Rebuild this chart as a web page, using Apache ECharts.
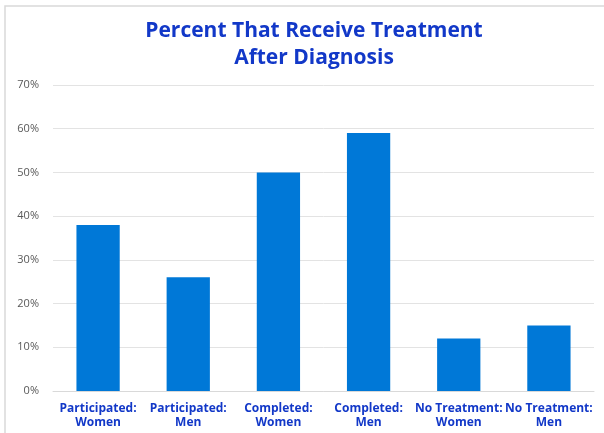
<!DOCTYPE html>
<html><head><meta charset="utf-8">
<script src="https://cdn.jsdelivr.net/npm/echarts@6/dist/echarts.min.js"></script>
<style>html,body{margin:0;padding:0;background:#fff}#c{width:604px;height:433px}</style>
</head><body><div id="c"></div>
<script>
const categories = ["Participated:\nWomen","Participated:\nMen","Completed:\nWomen","Completed:\nMen","No Treatment:\nWomen","No Treatment:\nMen"];
const values = [38, 26, 50, 59, 12, 15];
const yTicks = [0, 10, 20, 30, 40, 50, 60, 70];

const chart = echarts.init(document.getElementById('c'));
chart.setOption({
  animation: false,
  graphic: [{type:'rect', shape:{x:5,y:6,width:620,height:440}, style:{fill:'none', stroke:'#d9d9d9', lineWidth:1.5}, z:-1}],
  title: {
    text: 'Percent That Receive Treatment\nAfter Diagnosis',
    left: 309, top: 13, textAlign: 'center',
    textStyle: {color:'#1238c8', fontSize:21, fontWeight:'bold', fontFamily:'Open Sans', lineHeight:27}
  },
  grid: {left:53, right:10, top:85, bottom:42, containLabel:false},
  xAxis: {
    type:'category', data: categories,
    axisTick:{show:false},
    axisLine:{lineStyle:{color:'#d9d9d9'}},
    axisLabel:{color:'#1238c8', fontWeight:'bold', fontSize:12, fontFamily:'Open Sans', lineHeight:14, margin:11, interval:0}
  },
  yAxis: {
    type:'value', min:yTicks[0], max:yTicks[yTicks.length-1], interval:10,
    axisLine:{show:false}, axisTick:{show:false},
    splitLine:{lineStyle:{color:'#e3e3e3'}},
    axisLabel:{formatter:'{value}%', color:'#595959', fontSize:11, fontFamily:'Open Sans', margin:14}
  },
  series: [{type:'bar', data: values, barWidth:'48%', itemStyle:{color:'#0078d7'}}]
});
</script></body></html>
